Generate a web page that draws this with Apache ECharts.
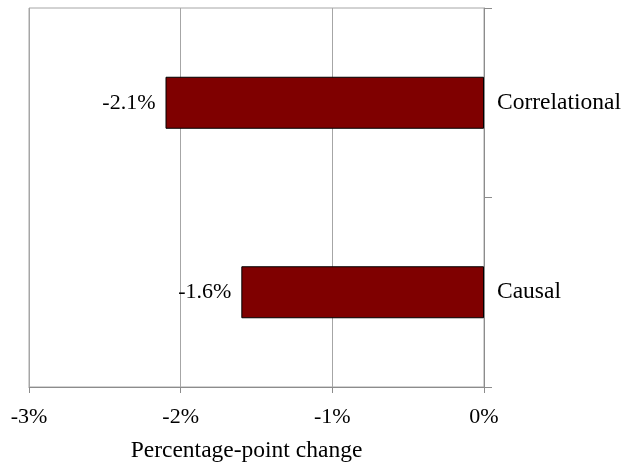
<!DOCTYPE html>
<html>
<head>
<meta charset="utf-8">
<script src="https://cdn.jsdelivr.net/npm/echarts@6/dist/echarts.min.js"></script>
<style>
  html, body { margin: 0; padding: 0; background: #fff; }
  #chart { width: 632px; height: 464px; }
</style>
</head>
<body>
<div id="chart"></div>
<script>
// Percentage-point change by estimate type
const categories = ['Correlational', 'Causal'];
const changes = [-2.1, -1.6];
const axisMin = -3;
const axisMax = 0;
const axisStep = 1;
const axisTitle = 'Percentage-point change';

const FONT = '"Liberation Serif", "Times New Roman", serif';
const GRID_GRAY = '#a6a6a6';
const AXIS_GRAY = '#8c8c8c';

const chart = echarts.init(document.getElementById('chart'));
chart.setOption({
  animation: false,
  backgroundColor: '#fff',
  grid: {
    left: 29, right: 148, top: 8, bottom: 77,
    outerBoundsMode: 'none',
    containLabel: false,
    show: true, borderColor: GRID_GRAY, borderWidth: 1
  },
  xAxis: {
    type: 'value',
    min: axisMin, max: axisMax, interval: axisStep,
    axisLine: { show: true, lineStyle: { color: AXIS_GRAY } },
    axisTick: { show: true, length: 6, lineStyle: { color: AXIS_GRAY } },
    splitLine: { show: true, lineStyle: { color: GRID_GRAY } },
    axisLabel: {
      formatter: v => v + '%',
      color: '#000', fontFamily: FONT, fontSize: 22, margin: 19
    },
    name: axisTitle,
    nameLocation: 'middle',
    nameGap: 52,
    nameTextStyle: { color: '#000', fontFamily: FONT, fontSize: 23.5, padding: [0, 20, 0, 0] }
  },
  yAxis: {
    type: 'category',
    data: categories,
    inverse: true,
    position: 'right',
    axisLine: { show: true, lineStyle: { color: AXIS_GRAY } },
    axisTick: { show: true, length: 8, lineStyle: { color: AXIS_GRAY } },
    splitLine: { show: false },
    axisLabel: { color: '#000', fontFamily: FONT, fontSize: 23.5, margin: 13 }
  },
  series: [{
    type: 'bar',
    data: changes,
    barWidth: 52,
    itemStyle: { color: '#7f0000', borderColor: '#000', borderWidth: 1 },
    label: {
      show: true,
      position: 'left',
      distance: 10,
      formatter: p => p.value.toFixed(1) + '%',
      color: '#000', fontFamily: FONT, fontSize: 22
    }
  }]
});
</script>
</body>
</html>
